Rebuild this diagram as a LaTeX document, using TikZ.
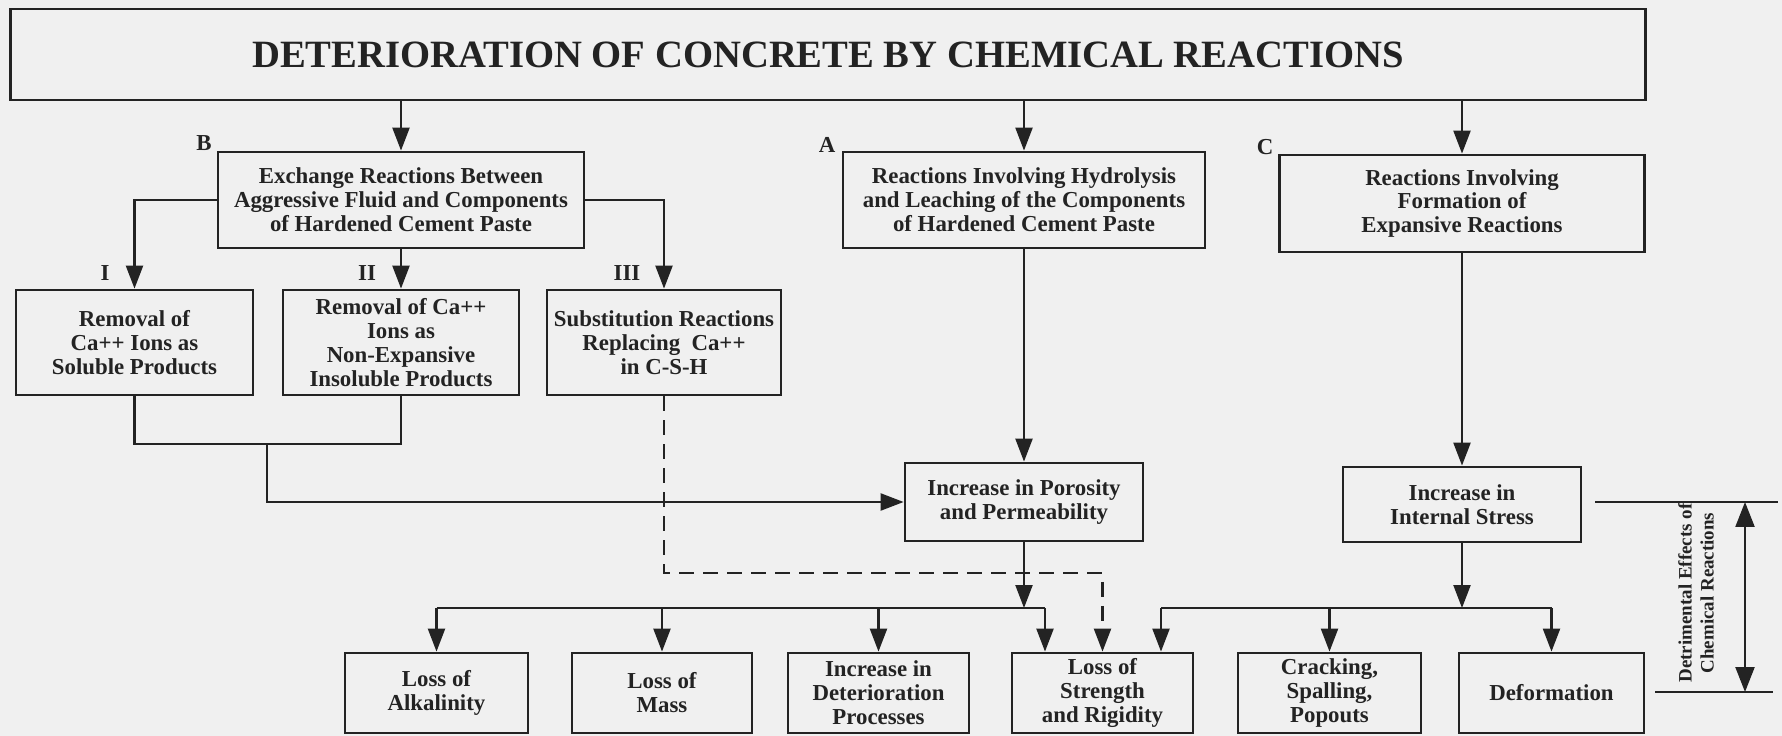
\documentclass[tikz,border=0pt]{standalone}
\usepackage{xcolor}
\usepackage{fontspec}
\setmainfont{Liberation Serif}
\usepackage{tikz}
\usetikzlibrary{arrows.meta,positioning}
\definecolor{paper}{RGB}{240,240,240}
\definecolor{ink}{RGB}{35,35,35}
\tikzset{
  box/.style={draw=ink, line width=1.6pt, align=center, inner sep=0pt,
    font=\bfseries\fontsize{13}{13.6}\selectfont, text=ink},
  tag/.style={inner sep=0pt, font=\bfseries\fontsize{13}{13}\selectfont, text=ink},
  line/.style={draw=ink, line width=1.3pt},
  link/.style={line, -{Triangle[length=0.46cm,width=0.34cm]}},
  dlink/.style={link, dash pattern=on 0.3cm off 0.18cm}
}

\begin{document}
\begin{tikzpicture}[x=0.02cm,y=-0.02cm]
\fill [paper] (0,0) rectangle (1782,736);
\useasboundingbox (0,0) rectangle (1782,736);
\node [box, minimum width=32.72cm, minimum height=1.82cm, font=\bfseries\fontsize{22}{24}\selectfont] (title) at (828,54.5) {DETERIORATION OF CONCRETE BY CHEMICAL REACTIONS};
\node [box, minimum width=7.32cm, minimum height=1.92cm] (exch) at (401,200) {Exchange Reactions Between\\Aggressive Fluid and Components\\of Hardened Cement Paste};
\node [box, minimum width=7.24cm, minimum height=1.92cm] (hydro) at (1024,200) {Reactions Involving Hydrolysis\\and Leaching of the Components\\of Hardened Cement Paste};
\node [box, minimum width=7.3cm, minimum height=1.94cm] (expan) at (1462,203.5) {Reactions Involving\\Formation of\\Expansive Reactions};
\node [tag] (lbB) at (204,143) {B};
\node [tag] (lbA) at (827,145) {A};
\node [tag] (lbC) at (1265,147) {C};
\node [box, minimum width=4.74cm, minimum height=2.1cm] (rem1) at (134.5,342.5) {Removal of\\Ca++ Ions as\\Soluble Products};
\node [box, minimum width=4.72cm, minimum height=2.1cm] (rem2) at (401,342.5) {Removal of Ca++\\Ions as\\Non-Expansive\\Insoluble Products};
\node [box, minimum width=4.68cm, minimum height=2.1cm] (subst) at (664,342.5) {Substitution Reactions\\Replacing\ \ Ca++\\in C-S-H};
\node [tag] (lb1) at (105,273) {I};
\node [tag] (lb2) at (367,273) {II};
\node [tag] (lb3) at (627,273) {III};
\node [box, minimum width=4.76cm, minimum height=1.56cm] (poro) at (1024,502) {Increase in Porosity\\and Permeability};
\node [box, minimum width=4.76cm, minimum height=1.5cm] (stress) at (1462,504.5) {Increase in\\Internal Stress};
\node [box, minimum width=3.66cm, minimum height=1.6cm] (alk) at (436.5,693) {Loss of\\Alkalinity};
\node [box, minimum width=3.6cm, minimum height=1.6cm] (mass) at (662,693) {Loss of\\Mass};
\node [box, minimum width=3.62cm, minimum height=1.6cm] (incr) at (878.5,693) {Increase in\\Deterioration\\Processes};
\node [box, minimum width=3.62cm, minimum height=1.6cm] (strength) at (1102.5,693) {Loss of\\Strength\\and Rigidity};
\node [box, minimum width=3.66cm, minimum height=1.6cm] (crack) at (1329.5,693) {Cracking,\\Spalling,\\Popouts};
\node [box, minimum width=3.7cm, minimum height=1.6cm] (deform) at (1551.5,693) {Deformation};
\node [rotate=90, align=center, inner sep=0pt, text=ink, font=\bfseries\fontsize{10.8}{12.5}\selectfont] (detr) at (1696,593) {Detrimental Effects of\\Chemical Reactions};
\coordinate (ujoin) at (267,444);
\coordinate (dcorner) at (1102.5,573);
\coordinate (pbranch) at (1024,608);
\coordinate (sleft) at (1045,608);
\coordinate (sright) at (1161,608);
\coordinate (sbranch) at (1462,608);
\coordinate (ltop) at (1595,502);
\coordinate (rtop) at (1778,502);
\coordinate (lbot) at (1655,692);
\coordinate (rbot) at (1773,692);
\coordinate (atop) at (1745,502);
\coordinate (abot) at (1745,692);
\foreach \b in {exch,hydro,expan}
  \draw [link] (\b.north |- title.south) -- (\b.north);
\draw [link] (exch.west) -| (rem1.north);
\draw [link] (exch.south) -- (rem2.north);
\draw [link] (exch.east) -| (subst.north);
\draw [line] (rem1.south) |- (ujoin) -| (rem2.south);
\draw [link] (ujoin) |- (poro.west);
\draw [dlink] (subst.south) |- (dcorner) -- (strength.north);
\draw [link] (hydro.south) -- (poro.north);
\draw [link] (expan.south) -- (stress.north);
\draw [link] (poro.south) -- (pbranch);
\draw [line] (alk.north |- pbranch) -- (sleft);
\foreach \b in {alk,mass,incr}
  \draw [link] (\b.north |- pbranch) -- (\b.north);
\draw [link] (sleft) -- (sleft |- strength.north);
\draw [link] (stress.south) -- (sbranch);
\draw [line] (sright) -- (deform.north |- sbranch);
\draw [link] (sright) -- (sright |- strength.north);
\foreach \b in {crack,deform}
  \draw [link] (\b.north |- sbranch) -- (\b.north);
\draw [line] (ltop) -- (rtop);
\draw [line] (lbot) -- (rbot);
\draw [line, {Triangle[length=0.5cm,width=0.38cm]}-{Triangle[length=0.5cm,width=0.38cm]}] (atop) -- (abot);
\end{tikzpicture}
\end{document}
